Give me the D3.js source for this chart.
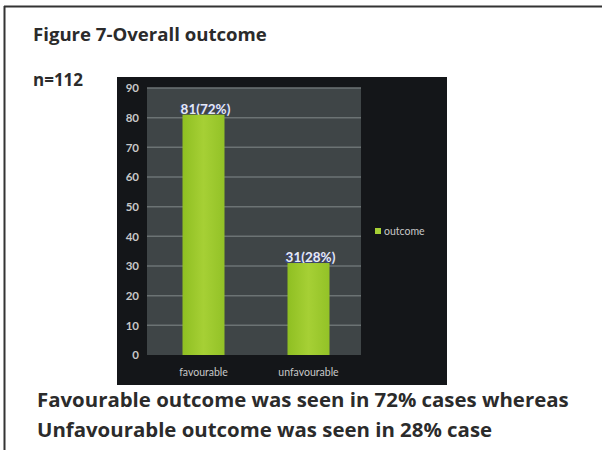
<!DOCTYPE html>
<html><head><meta charset="utf-8">
<script src="https://cdn.jsdelivr.net/npm/d3@7"></script>
<style>body{margin:0;background:#fff}svg{display:block}</style>
</head><body>
<script>
const categories = ["favourable", "unfavourable"];
const values = [81, 31];
const valueLabels = ["81(72%)", "31(28%)"];
const yTicks = [0, 10, 20, 30, 40, 50, 60, 70, 80, 90];
const seriesName = "outcome";
const title = "Figure 7-Overall outcome";
const nLabel = "n=112";
const caption = ["Favourable outcome was seen in 72% cases whereas", "Unfavourable outcome was seen in 28% case"];

const W = 602, H = 450;
const svg = d3.select("body").append("svg").attr("width", W).attr("height", H);

// outer frame
svg.append("line").attr("x1", 4).attr("x2", W).attr("y1", 6.5).attr("y2", 6.5).attr("stroke", "#333").attr("stroke-width", 2);
svg.append("line").attr("x1", 4.5).attr("x2", 4.5).attr("y1", 6).attr("y2", H).attr("stroke", "#333").attr("stroke-width", 2);

svg.append("text").attr("x", 33).attr("y", 41).text(title)
  .attr("font-family", "Open Sans").attr("font-weight", "bold").attr("font-size", 18.6).attr("fill", "#2b2b2b");
svg.append("text").attr("x", 33).attr("y", 86).text(nLabel)
  .attr("font-family", "Open Sans").attr("font-weight", "bold").attr("font-size", 17).attr("fill", "#2b2b2b");

// chart box
const box = {x: 117, y: 77, w: 330, h: 308};
svg.append("rect").attr("x", box.x).attr("y", box.y).attr("width", box.w).attr("height", box.h).attr("fill", "#141619");

const plot = {x0: 147, x1: 361, y0: 88, y1: 355};
svg.append("rect").attr("x", plot.x0).attr("y", plot.y0).attr("width", plot.x1 - plot.x0).attr("height", plot.y1 - plot.y0).attr("fill", "#3f4547");

const y = d3.scaleLinear().domain([0, 90]).range([plot.y1, plot.y0]);
const x = d3.scaleBand().domain(categories).range([plot.x0 + 4, plot.x1]).paddingInner(0.6).paddingOuter(0.3);

const g = svg.append("g");
g.selectAll("line.grid").data(yTicks.filter(d => d > 0)).join("line")
  .attr("x1", plot.x0).attr("x2", plot.x1).attr("y1", d => y(d)).attr("y2", d => y(d))
  .attr("stroke", "#6c7374").attr("stroke-width", 1.5);

const yAxis = svg.append("g").attr("transform", `translate(${plot.x0},0)`)
  .call(d3.axisLeft(y).tickValues(yTicks).tickSize(0).tickPadding(8));
yAxis.select(".domain").remove();
yAxis.selectAll("text").attr("fill", "#c8c8c8").attr("font-family", "Lato").attr("font-weight", "bold").attr("font-size", 11.5);

const defs = svg.append("defs");
const grad = defs.append("linearGradient").attr("id", "bg").attr("x1", 0).attr("x2", 1);
grad.append("stop").attr("offset", "0%").attr("stop-color", "#8fbf22");
grad.append("stop").attr("offset", "50%").attr("stop-color", "#a6d035");
grad.append("stop").attr("offset", "100%").attr("stop-color", "#93c227");

// faint blue shadow behind value labels
g.selectAll("text.vls").data(values).join("text")
  .attr("x", (d, i) => x(categories[i]) + x.bandwidth() / 2 + 1).attr("y", d => y(d) - 0.5)
  .attr("text-anchor", "middle").text((d, i) => valueLabels[i])
  .attr("fill", "#3d4aa0").attr("opacity", 0.7)
  .attr("font-family", "Lato").attr("font-weight", "bold").attr("font-size", 13.5);
g.selectAll("text.vl").data(values).join("text")
  .attr("x", (d, i) => x(categories[i]) + x.bandwidth() / 2 + 2).attr("y", d => y(d) - 1)
  .attr("text-anchor", "middle").text((d, i) => valueLabels[i])
  .attr("fill", "#e6e8f4")
  .attr("font-family", "Lato").attr("font-weight", "bold").attr("font-size", 13.5);

g.selectAll("rect.bar").data(values).join("rect")
  .attr("x", (d, i) => x(categories[i])).attr("width", x.bandwidth())
  .attr("y", d => y(d)).attr("height", d => y(0) - y(d)).attr("fill", "url(#bg)");

const xAxis = svg.append("g").attr("transform", `translate(0,${plot.y1})`)
  .call(d3.axisBottom(x).tickSize(0).tickPadding(14));
xAxis.select(".domain").remove();
xAxis.selectAll("text").attr("fill", "#c8c8c8").attr("font-family", "Lato").attr("font-size", 10.5);

// legend
svg.append("rect").attr("x", 375).attr("y", 228).attr("width", 6).attr("height", 6).attr("fill", "#a6d035");
svg.append("text").attr("x", 384).attr("y", 235).text(seriesName)
  .attr("fill", "#c8c8c8").attr("font-family", "Lato").attr("font-size", 10.5);

svg.selectAll("text.cap").data(caption).join("text")
  .attr("x", 37).attr("y", (d, i) => 407 + i * 30).text(d => d)
  .attr("font-family", "Open Sans").attr("font-weight", "bold").attr("font-size", 20.4).attr("fill", "#2b2b2b");
</script>
</body></html>
